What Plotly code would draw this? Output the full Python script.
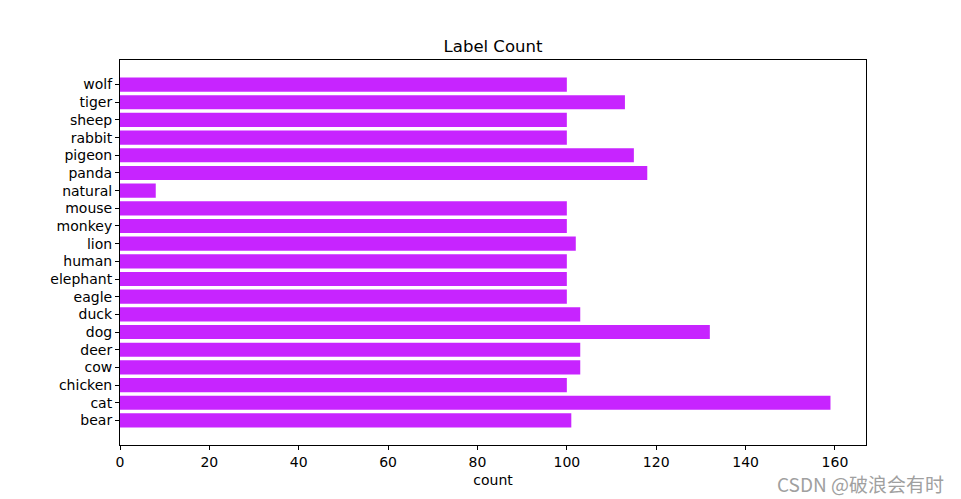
import plotly.graph_objects as go

labels = ["bear", "cat", "chicken", "cow", "deer", "dog", "duck", "eagle", "elephant",
          "human", "lion", "monkey", "mouse", "natural", "panda", "pigeon", "rabbit",
          "sheep", "tiger", "wolf"]
counts = [101, 159, 100, 103, 103, 132, 103, 100, 100,
          100, 102, 100, 100, 8, 118, 115, 100, 100, 113, 100]
x_ticks = [0, 20, 40, 60, 80, 100, 120, 140, 160]

font = "DejaVu Sans"
off = 8  # browser default body margin
W, H = 961 - off, 499 - off
L, R, T, B = 120 - off, 961 - 866, 60 - off, 499 - 445
fig = go.Figure(go.Bar(
    x=counts, y=labels, orientation="h",
    marker=dict(color="#c724ff", line=dict(width=0)),
))
n = len(labels)
pad = 0.05 * (n - 1 + 0.8)
plot_w = W - L - R
plot_h = H - T - B
fig.update_layout(
    width=W, height=H,
    margin=dict(l=L, r=R, t=T, b=B, autoexpand=False),
    paper_bgcolor="white", plot_bgcolor="white",
    bargap=0.2,
    showlegend=False,
    font=dict(family=font, size=14, color="black"),
    title=dict(text="Label Count", x=(L + plot_w / 2) / W, xanchor="center",
               y=1 - (46 - off) / H, yanchor="middle", font=dict(size=16.5, family=font)),
    xaxis=dict(range=[0, max(counts) * 1.05], tickvals=x_ticks, automargin=False,
               ticks="outside", ticklen=4, tickcolor="black", tickwidth=1,
               showgrid=False, zeroline=False, showline=True, linecolor="black",
               linewidth=1, mirror=True,
               title=dict(text="count", standoff=6, font=dict(size=14))),
    yaxis=dict(range=[-0.4 - pad, n - 1 + 0.4 + pad], type="category", automargin=False,
               ticks="outside", ticklen=4, tickcolor="black", tickwidth=1,
               showgrid=False, zeroline=False, showline=True, linecolor="black",
               linewidth=1, mirror=True),
)
fig.add_annotation(text="CSDN @破浪会有时", xref="paper", yref="paper",
                   x=(946 - 120) / plot_w, y=-(483 - 445) / plot_h,
                   xanchor="right", yanchor="middle", showarrow=False,
                   font=dict(family="Noto Sans CJK SC", size=19, color="#a0a0a0"))
fig.write_html("out.html")
